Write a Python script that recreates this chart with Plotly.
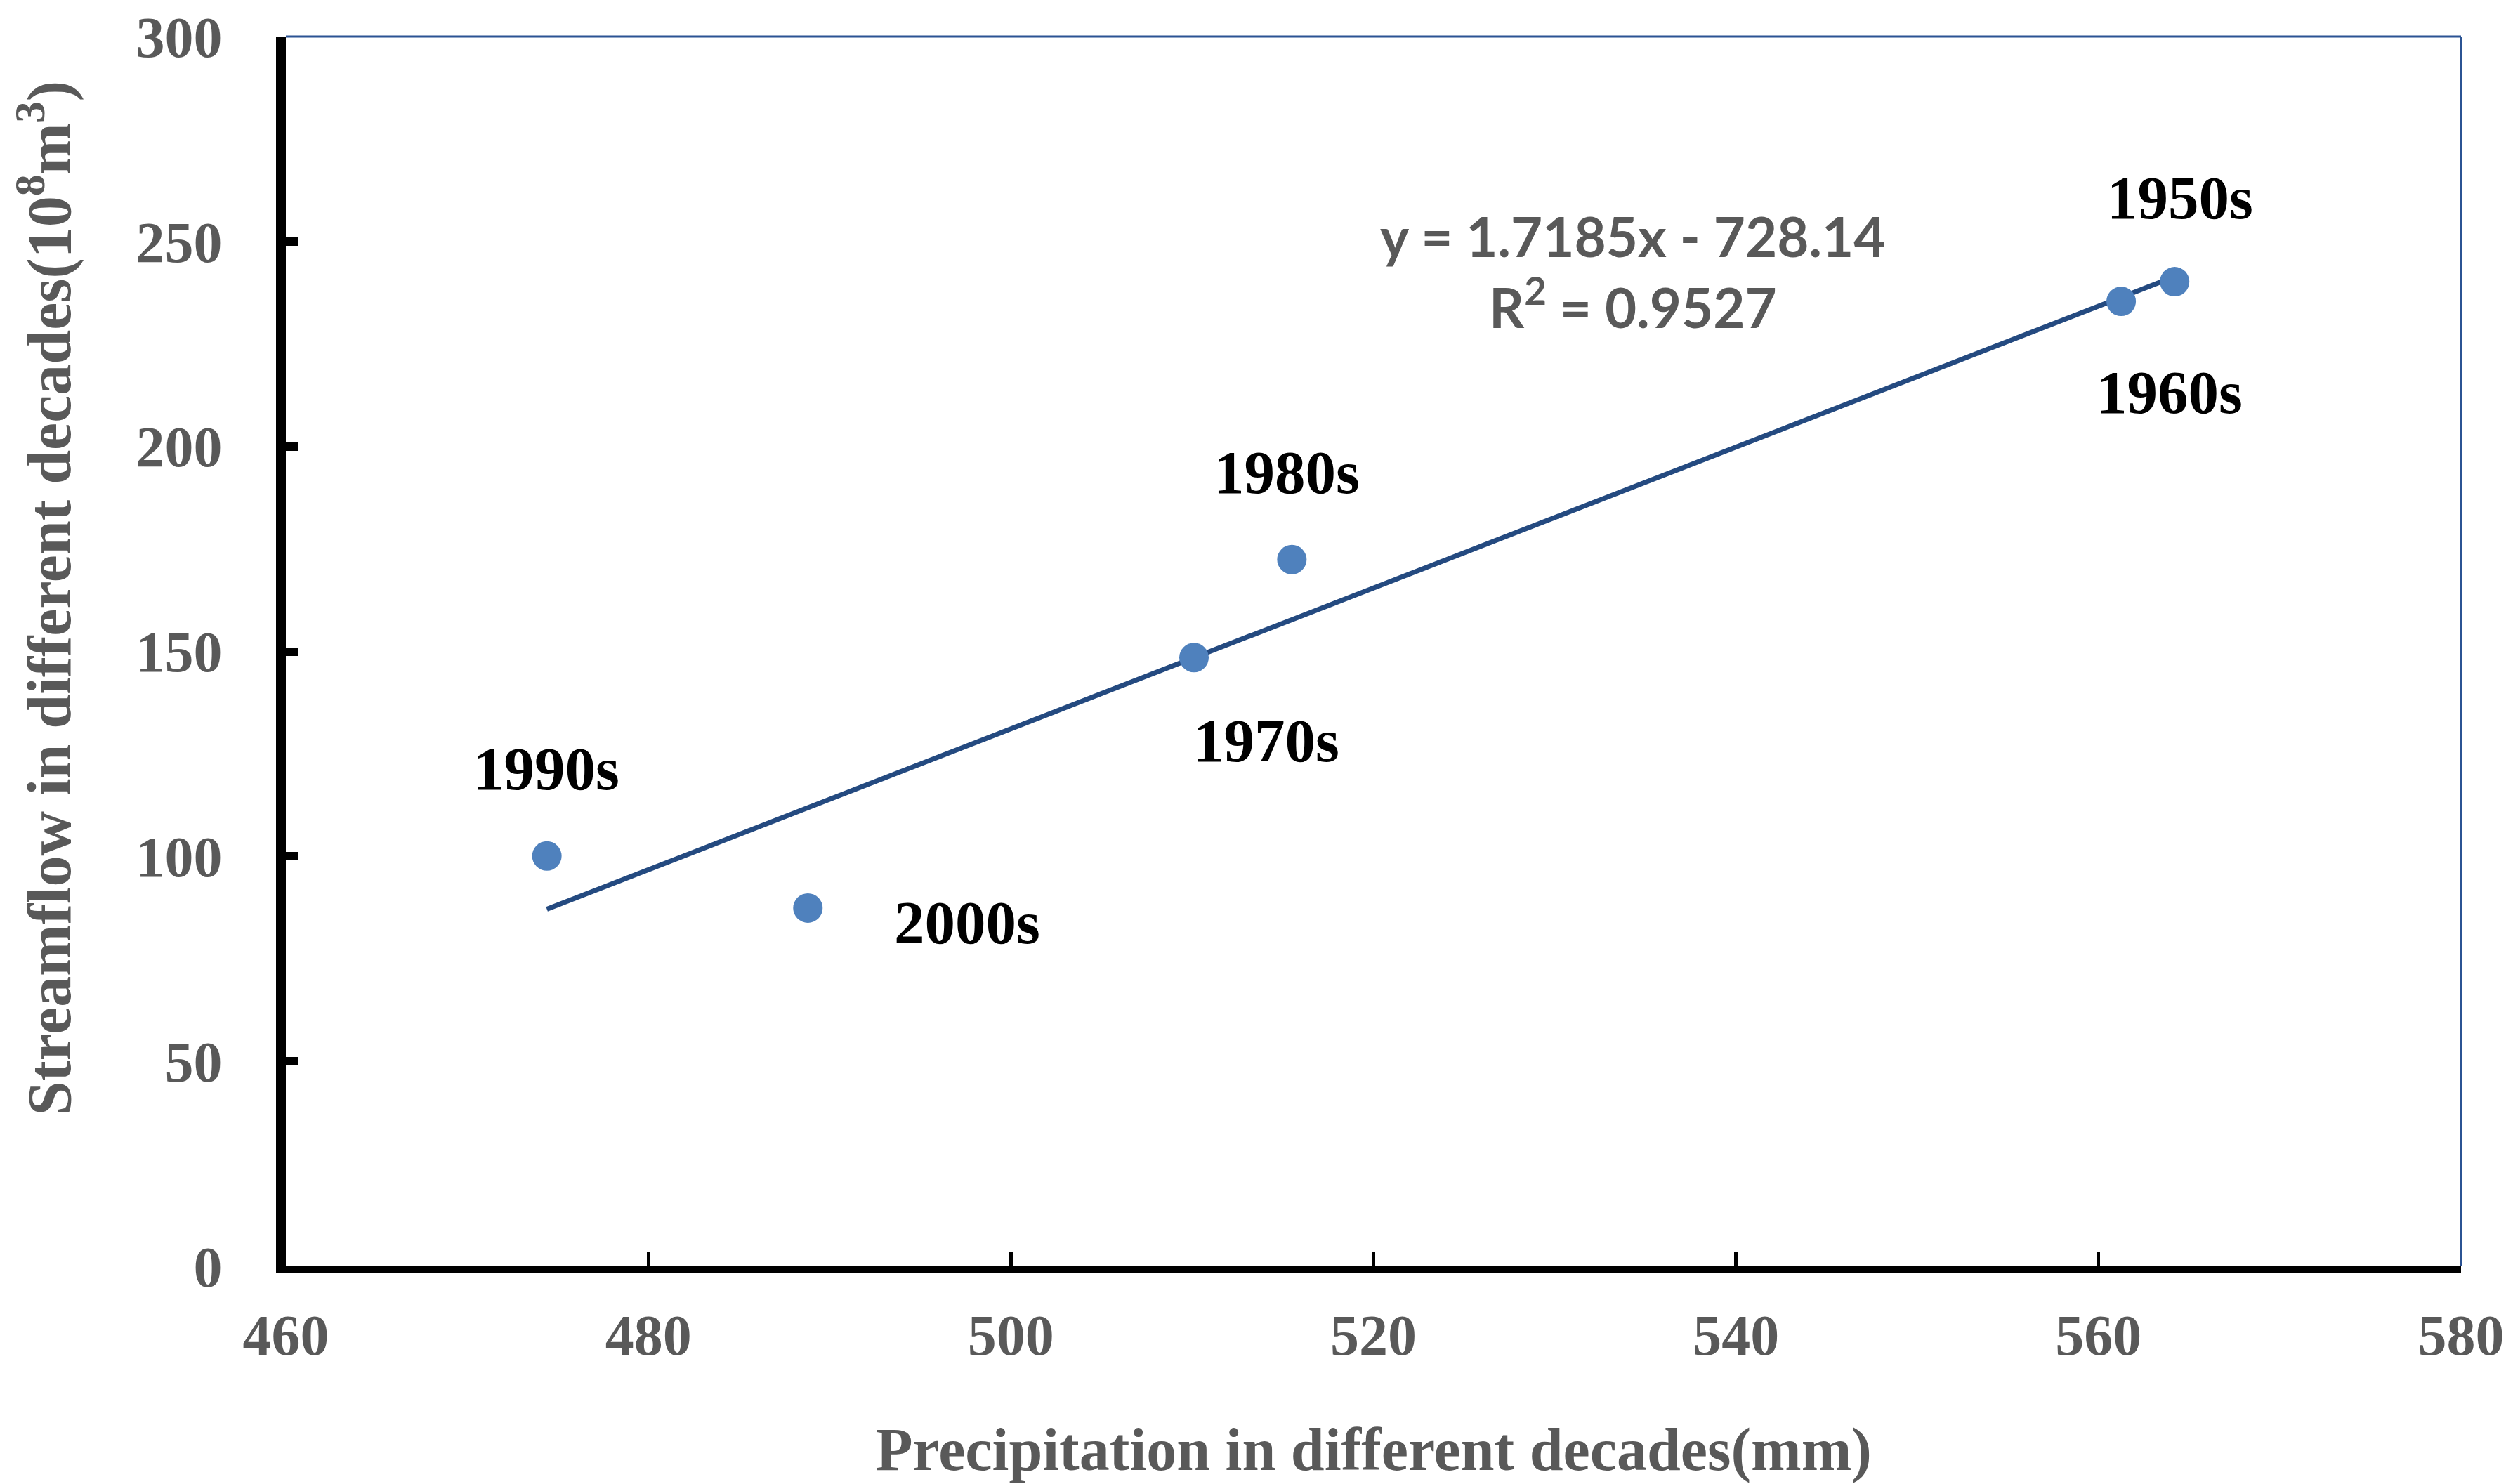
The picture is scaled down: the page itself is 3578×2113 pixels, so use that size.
import plotly.graph_objects as go

# decades, precipitation (mm) and streamflow (10^8 m^3)
decades = ["1950s", "1960s", "1970s", "1980s", "1990s", "2000s"]
precip = [564.2, 561.25, 510.1, 515.5, 474.4, 488.8]
flow = [240.2, 235.4, 148.5, 172.4, 100.1, 87.4]

# linear trend from the chart
slope = 1.7185
intercept = -728.14
r2 = 0.9527

# where each decade label sits relative to its point (px)
label_dx = [8, 69, 103, -7, -1, 227]
label_dy = [120, -129, -118, 124, 124, -21]

serif = "Liberation Serif, Times New Roman, serif"
grey = "#595959"

fig = go.Figure()

x0, x1 = min(precip), max(precip)
fig.add_trace(go.Scatter(
    x=[x0, x1],
    y=[slope * x0 + intercept, slope * x1 + intercept],
    mode="lines",
    line=dict(color="#244A80", width=7),
    showlegend=False,
    hoverinfo="skip",
))

fig.add_trace(go.Scatter(
    x=precip, y=flow,
    mode="markers",
    marker=dict(color="#4F81BD", size=42),
    showlegend=False,
))

for d, px_, fl, dx, dy in zip(decades, precip, flow, label_dx, label_dy):
    fig.add_annotation(
        x=px_, y=fl, text=d, showarrow=False,
        xshift=dx, yshift=dy,
        font=dict(family=serif, size=87, color="black", weight="bold"),
    )

fig.add_annotation(
    x=534.3, y=251.3, text=f"y = {slope}x - {abs(intercept)}", showarrow=False,
    font=dict(family="Lato, sans-serif", size=78, color=grey, weight="bold"),
)
fig.add_annotation(
    x=534.3, y=234.9, text=f"R<sup>2</sup> = {r2}", showarrow=False,
    font=dict(family="Lato, sans-serif", size=78, color=grey, weight="bold"),
)

# axis titles
fig.add_annotation(
    xref="paper", yref="paper", x=0.5, y=-0.149,
    xanchor="center", yanchor="middle",
    text="Precipitation in different decades(mm)", showarrow=False,
    font=dict(family=serif, size=86, color=grey, weight="bold"),
)
fig.add_annotation(
    xref="paper", yref="paper", x=-0.111, y=0.543, textangle=-90,
    xanchor="center", yanchor="middle",
    text="Streamflow in different decades(10<sup>8</sup>m<sup>3</sup>)", showarrow=False,
    font=dict(family=serif, size=88, color=grey, weight="bold"),
)

# thin blue top / right frame
fig.add_shape(type="line", xref="paper", yref="paper", x0=0, x1=1, y0=1, y1=1,
              line=dict(color="#2B5393", width=3))
fig.add_shape(type="line", xref="paper", yref="paper", x0=1, x1=1, y0=0, y1=1,
              line=dict(color="#2B5393", width=3))

fig.update_layout(
    width=3578, height=2113,
    margin=dict(l=399, r=82, t=44, b=318),
    plot_bgcolor="white", paper_bgcolor="white",
    xaxis=dict(
        range=[460, 580], dtick=20, tick0=460,
        showgrid=False, zeroline=False, automargin=False,
        showline=True, linecolor="black", linewidth=10,
        ticks="inside", ticklen=21, tickwidth=5, tickcolor="black",
        ticklabelstandoff=18, ticklabeloverflow="allow",
        tickfont=dict(family=serif, size=82, color=grey, weight="bold"),
    ),
    yaxis=dict(
        range=[0, 300], dtick=50, tick0=0,
        showgrid=False, zeroline=False, automargin=False,
        showline=True, linecolor="black", linewidth=14,
        ticks="inside", ticklen=18, tickwidth=12, tickcolor="black",
        ticklabelstandoff=60, ticklabeloverflow="allow",
        tickfont=dict(family=serif, size=82, color=grey, weight="bold"),
    ),
)

fig.write_html("out.html")
